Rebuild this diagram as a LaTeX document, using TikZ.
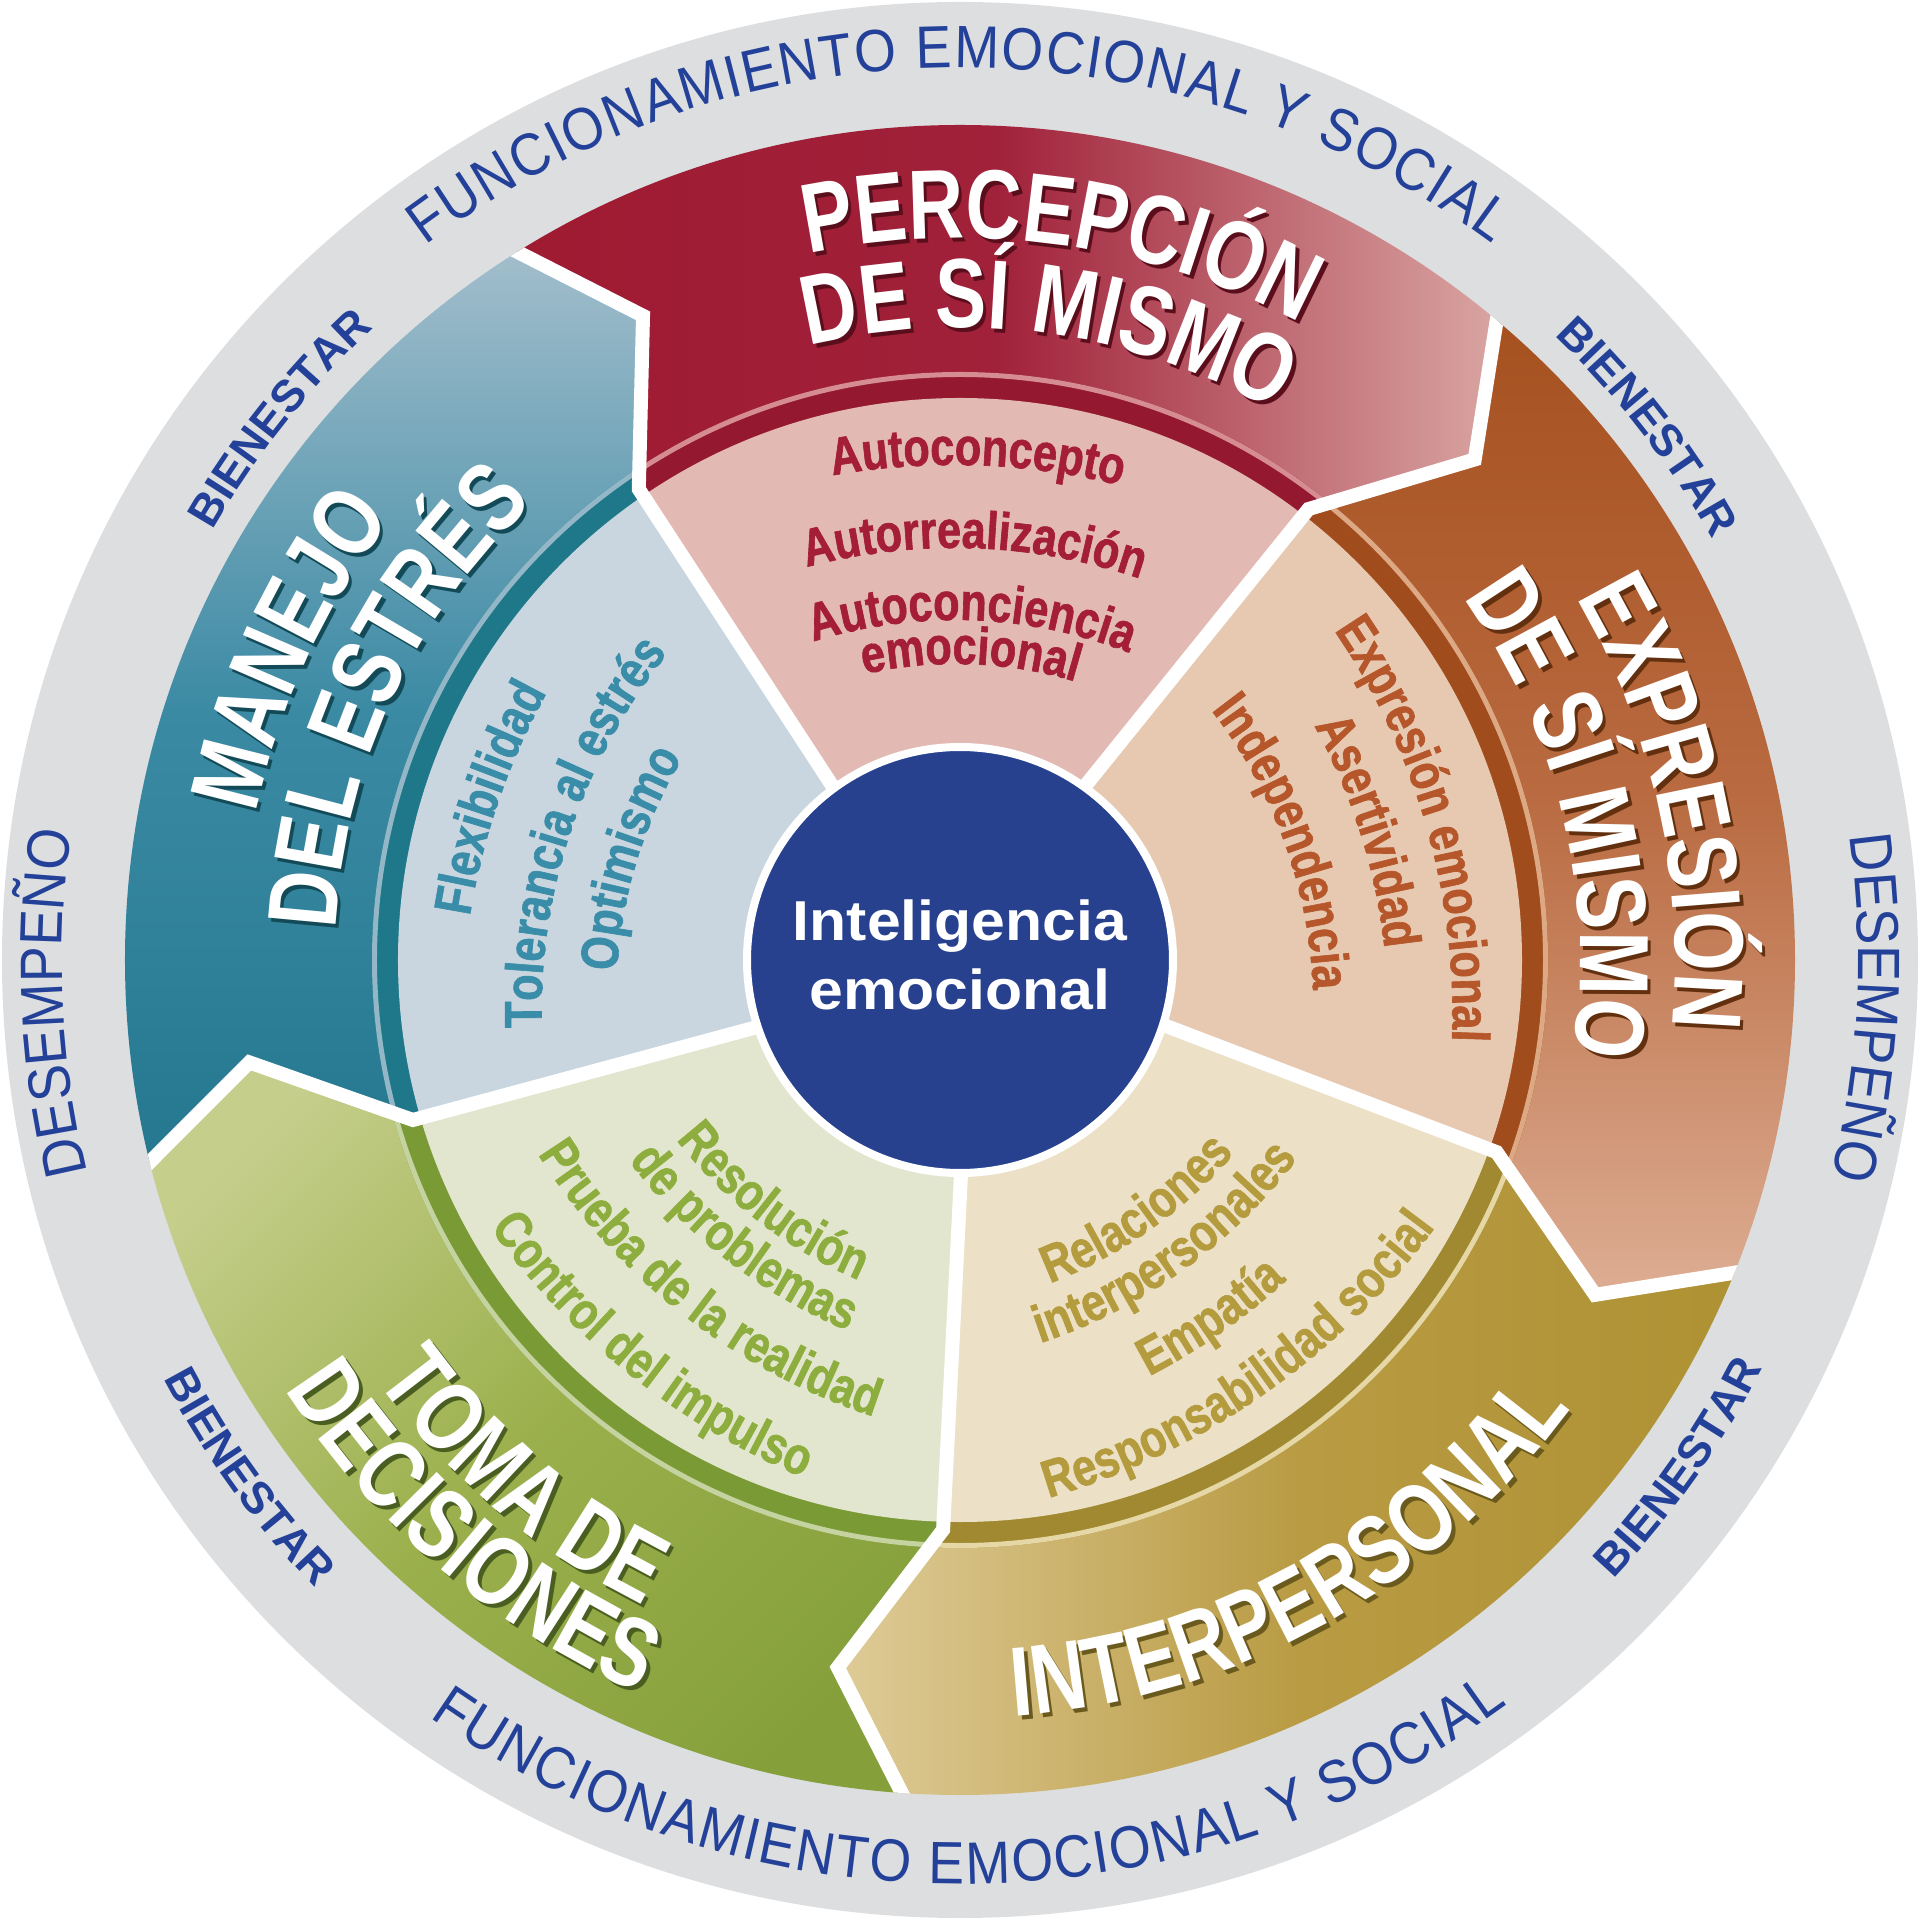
\documentclass[tikz,border=0pt]{standalone}
\usepackage{fontspec}
\setmainfont{Liberation Sans}
\newfontface\ringf[FakeStretch=0.9]{Liberation Sans}
\newfontface\ringbf{Liberation Sans Bold}
\newfontface\titlef[FakeStretch=0.78]{Liberation Sans Bold}
\newfontface\itemf[FakeStretch=0.82,FakeBold=1.2]{Liberation Sans Bold}
\newfontface\coref[FakeStretch=1.08]{Liberation Sans Bold}
\usetikzlibrary{decorations.text}

\newcommand\ttlfont{\titlef\fontsize{28}{30}\selectfont}
\newcommand\itmfont{\itemf\fontsize{15}{17}\selectfont}
\newcommand\ringfont{\ringf\fontsize{17}{19}\selectfont}
\newcommand\bienfont{\ringbf\fontsize{12.8}{14}\selectfont}
\newcommand\corefont{\coref\fontsize{16}{19.6}\selectfont}

\definecolor{ring}{HTML}{DCDEE0}
\definecolor{ringblue}{HTML}{24419A}
\definecolor{core}{HTML}{27418F}
\definecolor{redA}{HTML}{9E1A31}\definecolor{redB}{HTML}{A1213A}\definecolor{redC}{HTML}{D9A6A2}
\definecolor{redR}{HTML}{941830}\definecolor{redL}{HTML}{D58D93}\definecolor{redW}{HTML}{E2B9B3}
\definecolor{redT}{HTML}{A41E3A}\definecolor{redS}{HTML}{5A0E1C}
\definecolor{tealA}{HTML}{A5BFCD}\definecolor{tealB}{HTML}{3B8AA4}\definecolor{tealC}{HTML}{24778F}
\definecolor{tealR}{HTML}{1E7889}\definecolor{tealL}{HTML}{93B7C6}\definecolor{tealW}{HTML}{C9D6DF}
\definecolor{tealT}{HTML}{3A8DA8}\definecolor{tealS}{HTML}{134A57}
\definecolor{greenA}{HTML}{C5CE8B}\definecolor{greenB}{HTML}{9BB04C}\definecolor{greenC}{HTML}{85A03B}
\definecolor{greenR}{HTML}{7A9A35}\definecolor{greenL}{HTML}{C5D3A0}\definecolor{greenW}{HTML}{E3E6CE}
\definecolor{greenT}{HTML}{8DAE3E}\definecolor{greenS}{HTML}{4B5E22}
\definecolor{goldA}{HTML}{DECB97}\definecolor{goldB}{HTML}{B99B43}\definecolor{goldC}{HTML}{AD9132}
\definecolor{goldR}{HTML}{A08930}\definecolor{goldL}{HTML}{E6D8A6}\definecolor{goldW}{HTML}{ECE1C6}
\definecolor{goldT}{HTML}{B49B3E}\definecolor{goldS}{HTML}{6B5A1E}
\definecolor{oraA}{HTML}{A54F1D}\definecolor{oraB}{HTML}{B96A40}\definecolor{oraC}{HTML}{DDAD93}
\definecolor{oraR}{HTML}{A04C1C}\definecolor{oraL}{HTML}{DDA884}\definecolor{oraW}{HTML}{E7C9B2}
\definecolor{oraT}{HTML}{B5572A}\definecolor{oraS}{HTML}{63300F}

\newcommand\bendtext[6]{%
  \pgfmathsetmacro\btr{#3}%
  \pgfmathsetmacro\btx{(#2-\btr)*cos(#1)}%
  \pgfmathsetmacro\bty{(#2-\btr)*sin(#1)}%
  \pgfmathsetmacro\bts{#1+#4*50}%
  \pgfmathsetmacro\bte{#1-#4*50}%
  \path[decorate,decoration={text along path,text align=center,#5,text={#6}}]
    ([shift={(\btx,\bty)}]\bts:\btr) arc[start angle=\bts,end angle=\bte,radius=\btr];}
\newcommand\ttl[5]{%
  \begin{scope}[shift={(0.035,-0.04)}]\bendtext{#1}{#2}{#2}{#3}{text color=#4}{|\ttlfont|#5}\end{scope}
  \bendtext{#1}{#2}{#2}{#3}{text color=white}{|\ttlfont|#5}}
\newcommand\itm[5]{\bendtext{#1}{#2}{1.4*#2}{#3}{text color=#4}{|\itmfont|#5}}

\begin{document}
\begin{tikzpicture}
  \tikzstyle{gap}=[white, line width=0.14cm]
  \tikzstyle{hub}=[circle, fill=core, draw=white, line width=0.08cm, minimum size=4.26cm, inner sep=0pt, align=center, text=white, font=\corefont]
  \useasboundingbox (-9.6,-9.6) rectangle (9.6,9.6);
  \fill[ring] (0,0) circle (9.58);

  \foreach \st/\bt/\bm/\bb/\ang/\rc/\lc/\wc in {51/redA/redB/redC/90/redR/redL/redW,
      123/tealA/tealB/tealC/0/tealR/tealL/tealW, 195/greenA/greenB/greenC/45/greenR/greenL/greenW,
      267/goldA/goldB/goldC/90/goldR/goldL/goldW, 339/oraA/oraB/oraC/0/oraR/oraL/oraW} {
    \pgfmathsetmacro\en{\st+72}
    \begin{scope}
      \clip (0,0) circle (8.35);
      \shade[top color=\bt, bottom color=\bb, middle color=\bm, shading angle=\ang]
        (\st+3.5:2) -- (\st+1.3:5.7) -- (\st-6.8:7.18) -- (\st:8.6) arc[start angle=\st, end angle=\en, radius=8.6]
        -- (\en-6.8:7.18) -- (\en+1.3:5.7) -- (\en+3.5:2) -- cycle;
      \clip (\st+3.5:2) -- (\st+1.3:5.7) -- (\st-6.8:7.18) -- (\st:8.6) arc[start angle=\st, end angle=\en, radius=8.6]
        -- (\en-6.8:7.18) -- (\en+1.3:5.7) -- (\en+3.5:2) -- cycle;
      \fill[\rc] (0,0) circle (5.88);
      \draw[\lc, line width=0.05cm] (0,0) circle (5.855);
      \fill[\wc] (0,0) circle (5.62);
    \end{scope}
  }

  \begin{scope}
    \clip (0,0) circle (8.35);
    \foreach \st in {51,123,195,267,339}
      \draw[gap] (\st+3.5:2) -- (\st+1.3:5.7) -- (\st-6.8:7.18) -- (\st:8.6);
  \end{scope}

  \node[hub] (core) at (0,0) {};
  \node[align=center, text=white, font=\corefont] (coretext) at (0,0.05) {Inteligencia\\emocional};

  \ttl{82}{7.22}{1}{redS}{PERCEPCIÓN}
  \ttl{82}{6.32}{1}{redS}{DE SÍ MISMO}
  \ttl{12.5}{7.15}{1}{oraS}{EXPRESIÓN}
  \ttl{13.5}{6.2}{1}{oraS}{DE SÍ MISMO}
  \ttl{155.2}{7.19}{1}{tealS}{MANEJO}
  \ttl{155.1}{6.25}{1}{tealS}{DEL ESTRÉS}
  \ttl{-130.2}{7.19}{-1}{greenS}{TOMA DE}
  \ttl{-130.6}{8.0}{-1}{greenS}{DECISIONES}
  \ttl{-61.1}{7.58}{-1}{goldS}{INTERPERSONAL}

  \itm{88}{4.95}{1}{redT}{Autoconcepto}
  \itm{88}{4.12}{1}{redT}{Autorrealización}
  \itm{88}{3.4}{1}{redT}{Autoconciencia}
  \itm{88}{2.96}{1}{redT}{emocional}
  \itm{16}{4.85}{1}{oraT}{Expresión emocional}
  \itm{17.5}{4.2}{1}{oraT}{Asertividad}
  \itm{20}{3.45}{1}{oraT}{Independencia}
  \itm{161}{4.88}{1}{tealT}{Flexibilidad}
  \itm{161.4}{4.1}{1}{tealT}{Tolerancia al estrés}
  \itm{162.9}{3.38}{1}{tealT}{Optimismo}
  \itm{-127.6}{3.3}{-1}{greenT}{Resolución}
  \itm{-127.8}{3.8}{-1}{greenT}{de problemas}
  \itm{-128}{4.5}{-1}{greenT}{Prueba de la realidad}
  \itm{-128.6}{5.3}{-1}{greenT}{Control del impulso}
  \itm{-54.8}{3.3}{-1}{goldT}{Relaciones}
  \itm{-54.3}{3.82}{-1}{goldT}{interpersonales}
  \itm{-55}{4.55}{-1}{goldT}{Empatía}
  \itm{-55}{5.3}{-1}{goldT}{Responsabilidad social}

  \path[decorate,decoration={text along path,text color=ringblue,text align={fit to path},
    text={|\ringfont|FUNCIONAMIENTO EMOCIONAL Y SOCIAL}}]
    (126.8:8.92) arc[start angle=126.8,end angle=53.4,radius=8.92];
  \path[decorate,decoration={text along path,text color=ringblue,text align={fit to path},
    text={|\ringfont|FUNCIONAMIENTO EMOCIONAL Y SOCIAL}}]
    (-125:9.24) arc[start angle=-125,end angle=-53.7,radius=9.24];
  \bendtext{182.7}{8.98}{8.98}{1}{text color=ringblue}{|\ringfont|DESEMPEÑO}
  \bendtext{-3}{8.98}{8.98}{1}{text color=ringblue}{|\ringfont|DESEMPEÑO}
  \bendtext{141.5}{8.62}{8.62}{1}{text color=ringblue}{|\bienfont|BIENESTAR}
  \bendtext{37.8}{8.62}{8.62}{1}{text color=ringblue}{|\bienfont|BIENESTAR}
  \bendtext{-35.2}{9.0}{9.0}{-1}{text color=ringblue}{|\bienfont|BIENESTAR}
  \bendtext{-144}{9.0}{9.0}{-1}{text color=ringblue}{|\bienfont|BIENESTAR}
\end{tikzpicture}
\end{document}
